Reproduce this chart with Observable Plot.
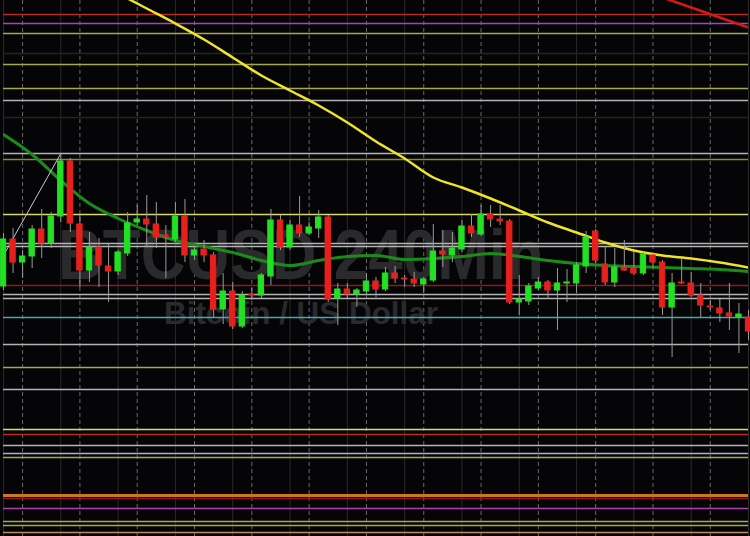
<!DOCTYPE html>
<html><head><meta charset="utf-8">
<script src="https://cdn.jsdelivr.net/npm/d3@7"></script>
<script src="https://cdn.jsdelivr.net/npm/@observablehq/plot@0.6"></script>
<style>html,body{margin:0;padding:0;background:#050508;overflow:hidden}</style>
</head><body><div id="chart"></div><script>
// ---- DATA ----
const title = "BTCUSD 240Min";
const subtitle = "Bitcoin / US Dollar";
const opens  = [9614,9661,9638,9644,9671,9657,9684,9739,9676,9630,9653,9634,9629,9647,9678,9681,9676,9665,9661,9684,9645,9651,9645,9591,9609,9574,9606,9605,9624,9680,9653,9675,9667,9672,9683,9602,9611,9606,9609,9619,9611,9627,9622,9621,9616,9620,9649,9645,9651,9674,9666,9686,9681,9679,9598,9599,9612,9618,9610,9617,9617,9634,9669,9636,9618,9633,9632,9627,9645,9638,9593,9618,9617,9605,9594,9592,9587,9583,9583];
const highs  = [9667,9672,9650,9675,9691,9688,9747,9742,9685,9668,9662,9656,9650,9688,9695,9705,9698,9675,9698,9701,9654,9660,9648,9627,9618,9609,9612,9627,9691,9685,9680,9704,9678,9690,9685,9617,9617,9612,9627,9623,9633,9634,9625,9628,9623,9676,9670,9668,9680,9686,9695,9695,9695,9681,9625,9617,9623,9620,9632,9631,9638,9669,9671,9653,9652,9660,9648,9648,9647,9640,9627,9642,9628,9617,9600,9601,9617,9597,9590];
const lows   = [9610,9627,9622,9632,9642,9652,9678,9668,9613,9618,9613,9598,9625,9644,9675,9653,9652,9622,9658,9638,9640,9638,9583,9576,9571,9572,9600,9602,9615,9650,9650,9663,9665,9662,9598,9575,9602,9593,9605,9603,9609,9617,9613,9613,9607,9618,9633,9638,9648,9663,9664,9673,9675,9596,9585,9595,9610,9601,9570,9598,9607,9627,9637,9615,9613,9629,9625,9625,9632,9585,9543,9616,9603,9583,9590,9578,9570,9547,9560];
const closes = [9661,9638,9644,9671,9657,9684,9739,9677,9630,9653,9635,9629,9648,9677,9681,9676,9663,9663,9684,9645,9650,9645,9591,9609,9574,9605,9605,9625,9680,9653,9675,9667,9673,9683,9601,9611,9606,9610,9619,9611,9627,9622,9621,9617,9621,9649,9646,9652,9674,9667,9686,9681,9679,9598,9601,9614,9618,9610,9617,9618,9635,9663,9640,9618,9633,9630,9627,9646,9638,9593,9617,9617,9605,9595,9593,9587,9584,9586,9569];

const slowMaIdx = [13,15,18,21,24,27,30,33,36,39,42,45,48,51,54,57,60,63,66,69,72,75,78];
const slowMaVal = [9902,9892,9877,9861,9843,9825,9810,9795,9778,9759,9742,9723,9713,9702,9690,9678,9668,9658,9650,9645,9642,9638,9633];
const fastMaIdx = [0,3,6,9,12,15,18,21,24,27,30,33,36,39,42,45,48,51,54,57,60,63,66,69,72,75,78];
const fastMaVal = [9766,9746,9720,9697,9682,9670,9660,9654,9648,9640,9635,9640,9644,9645,9641,9642,9644,9647,9644,9640,9637,9635,9634,9633,9632,9631,9629];
const longMaIdx = [69,72,75,78];
const longMaVal = [9903,9893,9883,9873];
const trendIdx = [-0.3,6];
const trendVal = [9640,9747];

const levels     = [9886,9877,9867,9847,9836,9812,9800,9783,9747,9741,9686,9657,9654,9615,9606,9602,9583,9556,9533,9511,9471,9466,9455,9447,9443,9405,9402,9392,9379,9375,9368];
const levelKinds = ["red","purple","olive","faint","olive","olive","gray","faint","gray","darkolive","yellow","gray","gray","darkred","gray","gray","teal","gray","olive","gray","yellow","red","gray","lavender","olive","orange","darkred","purple","olive","olive","tan"];

const majorGrid = [2,8,14,20,26,32,38,44,50,56,62,68,74];
const minorGrid = [0,6,12,18,24,30,36,42,48,54,60,66,72,78];

// ---- STYLE ----
const palette = {red:"#b82a22",purple:"#b040b0",olive:"#a8a848",faint:"#24241a",gray:"#b4b4b4",darkolive:"#8c8c2a",
  yellow:"#d8d870",darkred:"#8c1c1c",teal:"#48a8a8",lavender:"#b0b0cc",orange:"#c87820",tan:"#b89060"};
const UP = "#22e022", DOWN = "#e8201c";

const candles = opens.map((o,i)=>({i, open:o, high:highs[i], low:lows[i], close:closes[i], color: closes[i]>=o ? UP : DOWN}));
const lvl = levels.map((v,i)=>({v, c: palette[levelKinds[i]], w: levelKinds[i]==="orange" ? 3 : 1.5}));
const slow = slowMaIdx.map((x,k)=>({x, y:slowMaVal[k]}));
const fast = fastMaIdx.map((x,k)=>({x, y:fastMaVal[k]}));
const long = longMaIdx.map((x,k)=>({x, y:longMaVal[k]}));
const trend = trendIdx.map((x,k)=>({x, y:trendVal[k]}));

const chart = Plot.plot({
  width: 750, height: 536,
  marginLeft: 3, marginRight: 2, marginTop: 0, marginBottom: 0,
  style: {background: "#050508", overflow: "hidden"},
  x: {domain: [0, 78], axis: null},
  y: {domain: [9364, 9900], axis: null},
  marks: [
    Plot.ruleX(minorGrid, {x: d=>d, stroke: "#2a2a2a", strokeWidth: 1}),
    Plot.ruleX(majorGrid, {x: d=>d, stroke: "#6a6a6a", strokeWidth: 1, strokeDasharray: "4,3"}),
    Plot.text([title], {text: d=>d, frameAnchor: "top", dx: -75, dy: 229, fontSize: 70, fontWeight: "bold",
      fill: "#2a2a2c", fontFamily: "Liberation Sans, Arial, sans-serif"}),
    Plot.text([subtitle], {text: d=>d, frameAnchor: "top", dx: -75, dy: 301, fontSize: 32, fontWeight: "bold",
      fill: "#2a2a2c", fontFamily: "Liberation Sans, Arial, sans-serif"}),
    Plot.ruleY(lvl, {y: "v", stroke: d=>d.c, strokeWidth: d=>d.w}),
    Plot.line(fast, {x: "x", y: "y", stroke: "#1a8c1a", strokeWidth: 3, curve: "monotone-x", clip: true}),
    Plot.line(slow, {x: "x", y: "y", stroke: "#f0e428", strokeWidth: 2.5, curve: "monotone-x", clip: true}),
    Plot.line(long, {x: "x", y: "y", stroke: "#d81818", strokeWidth: 2.5, clip: true}),
    Plot.line(trend, {x: "x", y: "y", stroke: "#c8c8c8", strokeWidth: 1}),
    Plot.ruleX(candles, {x: "i", y1: "low", y2: "high", stroke: "#9a9a9a", strokeWidth: 1}),
    Plot.rect(candles, {x1: d=>d.i-0.28, x2: d=>d.i+0.28, y1: "open", y2: "close", fill: "color", stroke: "color", strokeWidth: 1})
  ]
});
document.getElementById("chart").appendChild(chart);
const texts = chart.querySelectorAll('g[aria-label="text"] text');
if (texts[0]) { texts[0].setAttribute("textLength", 486); texts[0].setAttribute("lengthAdjust", "spacingAndGlyphs"); }
if (texts[1]) { texts[1].setAttribute("textLength", 274); texts[1].setAttribute("lengthAdjust", "spacingAndGlyphs"); }
</script></body></html>
